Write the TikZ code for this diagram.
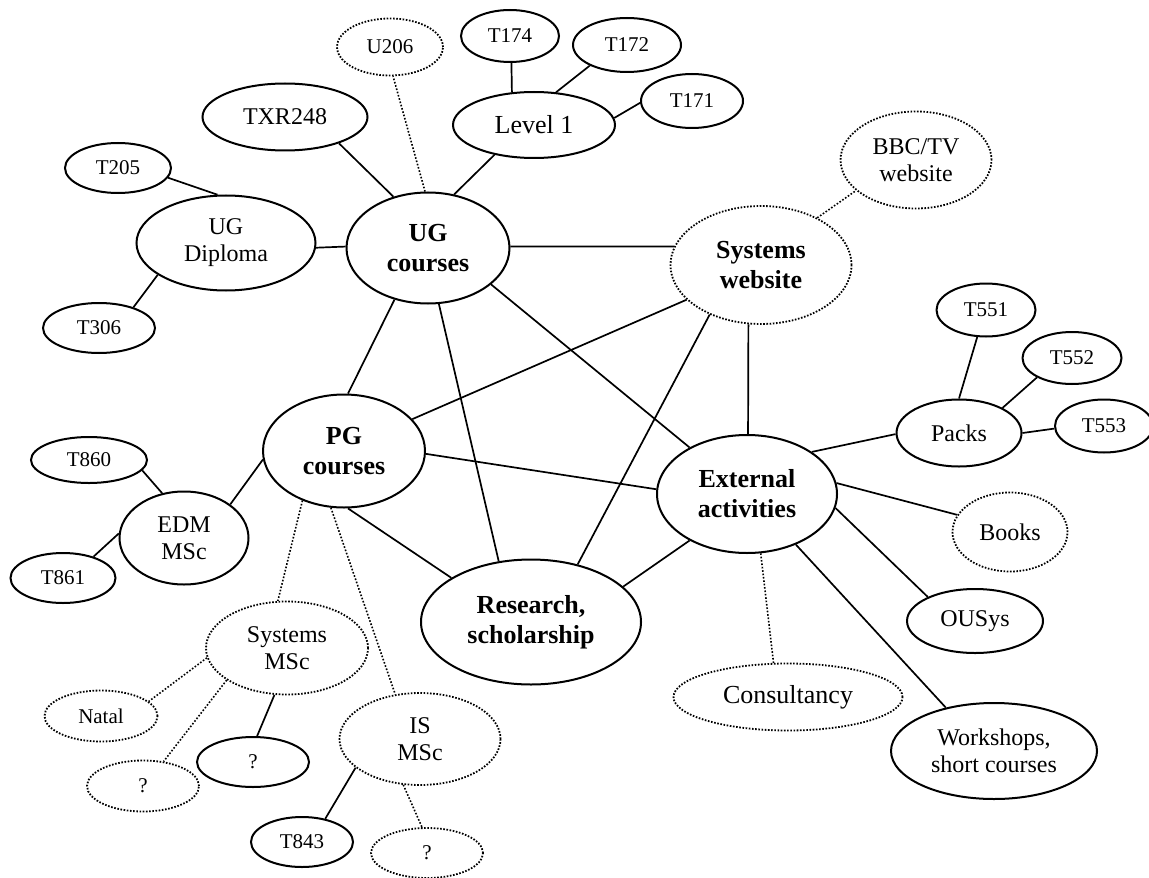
\documentclass[tikz,border=0pt]{standalone}
\usepackage{fontspec}
\setmainfont{Liberation Serif}
\usetikzlibrary{shapes.geometric}

\begin{document}
\begin{tikzpicture}[x=0.5pt,y=-0.5pt,
    blob/.style={ellipse,draw,line width=1pt,inner sep=0pt,align=center},
    maybe/.style={blob,line width=0.9pt,dash pattern=on 0.8pt off 0.8pt},
    sz/.style 2 args={minimum width=#1*0.5pt,minimum height=#2*0.5pt},
    link/.style={line width=0.85pt},
    vague/.style={line width=0.8pt,dash pattern=on 0.8pt off 0.9pt},
    codefont/.style={font=\fontsize{10.5}{12}\selectfont},
    midfont/.style={font=\fontsize{12}{13.5}\selectfont},
    bigfont/.style={font=\fontsize{13}{15}\selectfont},
    topfont/.style={font=\fontsize{13}{15}\selectfont\bfseries}
  ]
  \useasboundingbox (0,0) rectangle (1149,877);

  % main areas
  \node[blob,topfont,sz={163}{111}] (ug) at (428,248) {UG\\courses};
  \node[blob,topfont,sz={162}{113}] (pg) at (344,451) {PG\\courses};
  \node[blob,topfont,sz={220}{125}] (res) at (531,622) {Research,\\scholarship};
  \node[blob,topfont,sz={180}{118}] (ext) at (747,494) {External\\activities};
  \node[maybe,topfont,sz={181}{118}] (web) at (761,265) {Systems\\website};
  \node[maybe,midfont,sz={151}{97}] (bbc) at (916,160) {BBC/TV\\website};

  % undergraduate
  \node[maybe,codefont,sz={106}{57}] (u206) at (390,47) {U206};
  \node[blob,bigfont,sz={162}{66}] (lvl) at (534,125) {Level 1};
  \node[blob,codefont,sz={98}{52}] (t174) at (510,36) {T174};
  \node[blob,codefont,sz={108}{54}] (t172) at (627,45) {T172};
  \node[blob,codefont,sz={102}{54}] (t171) at (692,101) {T171};
  \node[blob,midfont,sz={165}{67}] (txr) at (285,117) {TXR248};
  \node[blob,midfont,sz={179}{95}] (dip) at (226,243) {UG\\Diploma};
  \node[blob,codefont,sz={106}{50}] (t205) at (118,168) {T205};
  \node[blob,codefont,sz={112}{50}] (t306) at (99,328) {T306};

  % external
  \node[blob,midfont,sz={125}{67}] (packs) at (959,433) {Packs};
  \node[blob,codefont,sz={99}{53}] (t551) at (986,310) {T551};
  \node[blob,codefont,sz={99}{52}] (t552) at (1072,358) {T552};
  \node[blob,codefont,sz={98}{53}] (t553) at (1104,426) {T553};
  \node[maybe,midfont,sz={115}{79}] (books) at (1010,532) {Books};
  \node[blob,midfont,sz={136}{64}] (ousys) at (975,621) {OUSys};
  \node[maybe,bigfont,sz={229}{67}] (cons) at (788,697) {Consultancy};
  \node[blob,midfont,sz={206}{96}] (work) at (994,751) {Workshops,\\short courses};

  % postgraduate
  \node[blob,midfont,sz={129}{93}] (edm) at (184,538) {EDM\\MSc};
  \node[blob,codefont,sz={116}{46}] (t860) at (89,460) {T860};
  \node[blob,codefont,sz={105}{50}] (t861) at (63,578) {T861};
  \node[maybe,midfont,sz={162}{93}] (sysmsc) at (287,648) {Systems\\MSc};
  \node[maybe,codefont,sz={113}{51}] (natal) at (101,716) {Natal};
  \node[maybe,codefont,sz={112}{51}] (qa) at (143,786) {?};
  \node[blob,codefont,sz={112}{50}] (qb) at (253,762) {?};
  \node[maybe,midfont,sz={161}{92}] (ismsc) at (420,739) {IS\\MSc};
  \node[blob,codefont,sz={102}{50}] (t843) at (302,842) {T843};
  \node[maybe,codefont,sz={112}{50}] (qc) at (427,853) {?};

  \draw[link] (ug.124.5) -- (txr.-26);
  \draw[vague] (ug.93) -- (u206.-84);
  \draw[link] (ug.64.7) -- (lvl.217);
  \draw[link] (lvl.124) -- (t174.-87.5);
  \draw[link] (lvl.56) -- (t172.209);
  \draw[link] (lvl.5.9) -- (t171.182);
  \draw[link] (dip.100) -- (t205.-11);
  \draw[link] (dip.205) -- (t306.31);
  \draw[link] (dip.-3.3) -- (ug.179);
  \draw[link] (ug.1) -- (web.168);
  \draw[link] (ug.237.6) -- (pg.86);
  \draw[link] (ug.-79.7) -- (res.118.5);
  \draw[link] (ug.-30.7) -- (ext.141.5);
  \draw[link] (web.205.6) -- (pg.25.6);
  \draw[link] (web.224.4) -- (res.51);
  \draw[link] (web.-102.4) -- (ext.89);
  \draw[vague] (web.40.5) -- (bbc.207);
  \draw[link] (packs.90) -- (t551.-108.4);
  \draw[link] (packs.30) -- (t552.209.7);
  \draw[link] (packs.0) -- (t553.183.7);
  \draw[link] (ext.33.7) -- (packs.181);
  \draw[link] (ext.7) -- (books.162.6);
  \draw[link] (ext.-9.2) -- (ousys.153);
  \draw[link] (ext.-46) -- (work.138.9);
  \draw[vague] (ext.-77.6) -- (cons.113.4);
  \draw[link] (ext.219.5) -- (res.21.5);
  \draw[link] (pg.-2) -- (ext.177.5);
  \draw[link] (pg.-86) -- (res.151);
  \draw[link] (pg.186.5) -- (edm.36.9);
  \draw[link] (edm.116.6) -- (t860.-11);
  \draw[link] (edm.176.7) -- (t861.35.5);
  \draw[vague] (pg.230) -- (sysmsc.101);
  \draw[vague] (pg.-103) -- (ismsc.119.6);
  \draw[vague] (sysmsc.187) -- (natal.17.4);
  \draw[vague] (sysmsc.208.5) -- (qa.50);
  \draw[link] (sysmsc.-105.5) -- (qb.81);
  \draw[link] (ismsc.204) -- (t843.45);
  \draw[vague] (ismsc.-110) -- (qc.101);
\end{tikzpicture}
\end{document}
